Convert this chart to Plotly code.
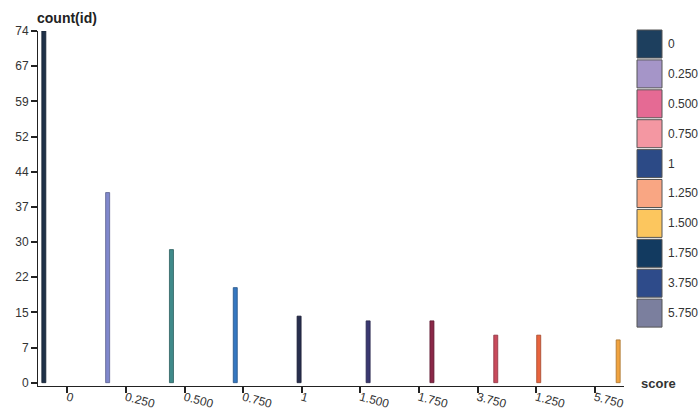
import plotly.graph_objects as go

# ---- data ----
categories = ["0", "0.250", "0.500", "0.750", "1", "1.500", "1.750", "3.750", "1.250", "5.750"]
counts = [74, 40, 28, 20, 14, 13, 13, 10, 10, 9]
legend_labels = ["0", "0.250", "0.500", "0.750", "1", "1.250", "1.500", "1.750", "3.750", "5.750"]
legend_colors = ["#1d3f5e", "#a595c8", "#e56a94", "#f497a2", "#2c4a86",
                 "#f9a683", "#fcc65e", "#123a60", "#2e4b8a", "#7b7f9e"]
bar_colors = {"0": "#1f3148", "0.250": "#8088cc", "0.500": "#3f8a8a", "0.750": "#3577c0",
              "1": "#282e4e", "1.500": "#3a3870", "1.750": "#8a2848", "3.750": "#c84a5c",
              "1.250": "#e8643e", "5.750": "#f0a340"}
ymax = 74

# ---- layout geometry (pixels) ----
W, H = 699, 410
L, R, T, B = 38, 624, 31, 386


def px_x(px):
    return (px - L) / (R - L)


def px_y(py):
    return (B - py) / (B - T)


def darker(hexc, f=0.7):
    h = hexc.lstrip("#")
    r, g, b = (int(h[i:i + 2], 16) for i in (0, 2, 4))
    return "rgb(%d,%d,%d)" % (r * f, g * f, b * f)


fig = go.Figure()
count_by_cat = dict(zip(categories, counts))
for i, lab in enumerate(legend_labels):
    fig.add_trace(go.Bar(
        x=[lab], y=[count_by_cat[lab]], name=lab, offsetgroup=str(i),
        marker=dict(color=bar_colors[lab], line=dict(color=darker(bar_colors[lab]), width=0.8)),
        showlegend=False,
    ))

shapes = []
annotations = []
top0, pitch, sh = 30, 29.9, 28
for i, (lab, col) in enumerate(zip(legend_labels, legend_colors)):
    y0 = top0 + i * pitch
    shapes.append(dict(type="rect", xref="paper", yref="paper",
                       x0=px_x(637), x1=px_x(662), y0=px_y(y0 + sh), y1=px_y(y0),
                       fillcolor=col, line=dict(color="#555555", width=1)))
    annotations.append(dict(xref="paper", yref="paper", x=px_x(666), y=px_y(y0 + sh / 2),
                            text=lab, showarrow=False, xanchor="left", yanchor="middle",
                            font=dict(size=12, color="#333333")))

annotations.append(dict(xref="paper", yref="paper", x=px_x(35), y=px_y(18),
                        text="<b>count(id)</b>", showarrow=False, xanchor="left", yanchor="middle",
                        font=dict(size=14, color="#222222")))
annotations.append(dict(xref="paper", yref="paper", x=px_x(639), y=px_y(383),
                        text="<b>score</b>", showarrow=False, xanchor="left", yanchor="middle",
                        font=dict(size=13, color="#333333")))

tickvals = [ymax * i / 10 for i in range(11)]
ticktext = [str(int(round(v))) for v in tickvals]

fig.update_layout(
    width=W, height=H,
    margin=dict(l=L, r=W - R, t=T, b=H - B, pad=0),
    paper_bgcolor="white", plot_bgcolor="white",
    barmode="group", bargap=0.11, bargroupgap=0.23,
    font=dict(family="Liberation Sans, Arial, sans-serif", size=12, color="#333333"),
    shapes=shapes, annotations=annotations,
    xaxis=dict(type="category", categoryorder="array", categoryarray=categories,
               showline=True, linecolor="#222222", linewidth=1,
               ticks="outside", ticklen=6, tickwidth=1.5, tickcolor="#222222",
               tickangle=15, showgrid=False, zeroline=False, automargin=False,
               ticklabelstandoff=-7,
               tickfont=dict(size=12, color="#333333")),
    yaxis=dict(range=[-0.7, ymax], tickvals=tickvals, ticktext=ticktext,
               showline=True, linecolor="#222222", linewidth=1,
               ticks="outside", ticklen=6, tickwidth=2, tickcolor="#222222",
               showgrid=False, zeroline=False, automargin=False,
               tickfont=dict(size=12, color="#333333")),
)

fig.write_html("out.html", config={"displayModeBar": False},
               post_script="document.body.style.margin='0';")
